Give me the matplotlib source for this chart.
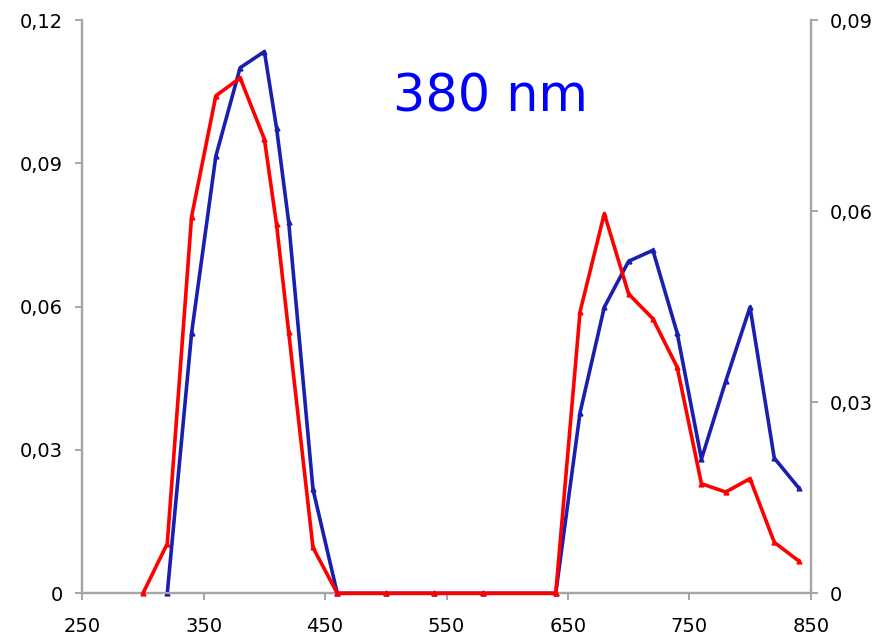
import matplotlib
matplotlib.use("Agg")
import matplotlib.pyplot as plt

# Wavelengths (nm)
wl_blue = [320, 340, 360, 380, 400, 410, 420, 440, 460, 500, 540, 580, 640,
           660, 680, 700, 720, 740, 760, 780, 800, 820, 840]
blue_vals = [0, 0.0544, 0.0915, 0.1100, 0.1134, 0.0974, 0.0777, 0.0218, 0, 0, 0, 0, 0,
             0.0378, 0.0599, 0.0695, 0.0718, 0.0545, 0.0281, 0.0444, 0.0599, 0.0283, 0.0221]

wl_red = [300, 320, 340, 360, 380, 400, 410, 420, 440, 460, 500, 540, 580, 640,
          660, 680, 700, 720, 740, 760, 780, 800, 820, 840]
red_vals = [0, 0.0078, 0.0591, 0.0781, 0.0809, 0.0713, 0.0579, 0.0410, 0.0072, 0, 0, 0, 0, 0,
            0.0442, 0.0596, 0.0470, 0.0431, 0.0355, 0.0172, 0.0159, 0.0180, 0.0080, 0.0051]

x_ticks = [250, 350, 450, 550, 650, 750, 850]
left_ticks = [0, 0.03, 0.06, 0.09, 0.12]
left_labels = ["0", "0,03", "0,06", "0,09", "0,12"]
right_ticks = [0, 0.03, 0.06, 0.09]
right_labels = ["0", "0,03", "0,06", "0,09"]
title_text = "380 nm"

W, H = 877, 636
fig = plt.figure(figsize=(W / 100, H / 100), dpi=100)
ax = fig.add_axes([82.3 / W, (H - 593.3) / H, (810.7 - 82.3) / W, (593.3 - 20) / H])
ax2 = ax.twinx()

blue = "#1a1fb0"
red = "#ff0000"
spine_c = "#a6a6a6"

ax.plot(wl_blue, blue_vals, color=blue, lw=2.6, marker="^", ms=3.5, clip_on=False, zorder=3)
ax2.plot(wl_red, red_vals, color=red, lw=2.6, marker="^", ms=3.5, clip_on=False, zorder=3)

ax.set_xlim(250, 850)
ax.set_ylim(0, 0.12)
ax2.set_ylim(0, 0.09)
ax.set_xticks(x_ticks)
ax.set_xticklabels([str(t) for t in x_ticks])
ax.set_yticks(left_ticks)
ax.set_yticklabels(left_labels)
ax2.set_yticks(right_ticks)
ax2.set_yticklabels(right_labels)

for a in (ax, ax2):
    a.spines["top"].set_visible(False)
    for s in ("left", "right", "bottom"):
        a.spines[s].set_color(spine_c)
        a.spines[s].set_linewidth(1.6)
    a.tick_params(axis="both", colors=spine_c, labelcolor="black", labelsize=14,
                  length=5, width=1.4, direction="out")
ax.tick_params(axis="y", pad=9)
ax2.tick_params(axis="y", pad=9)
ax.tick_params(axis="x", pad=12)

fig.text(490.8 / W, 1 - 112 / H, title_text, color="#0000ff", fontsize=36.5,
         ha="center", va="baseline")

fig.savefig("out.png", dpi=100)
